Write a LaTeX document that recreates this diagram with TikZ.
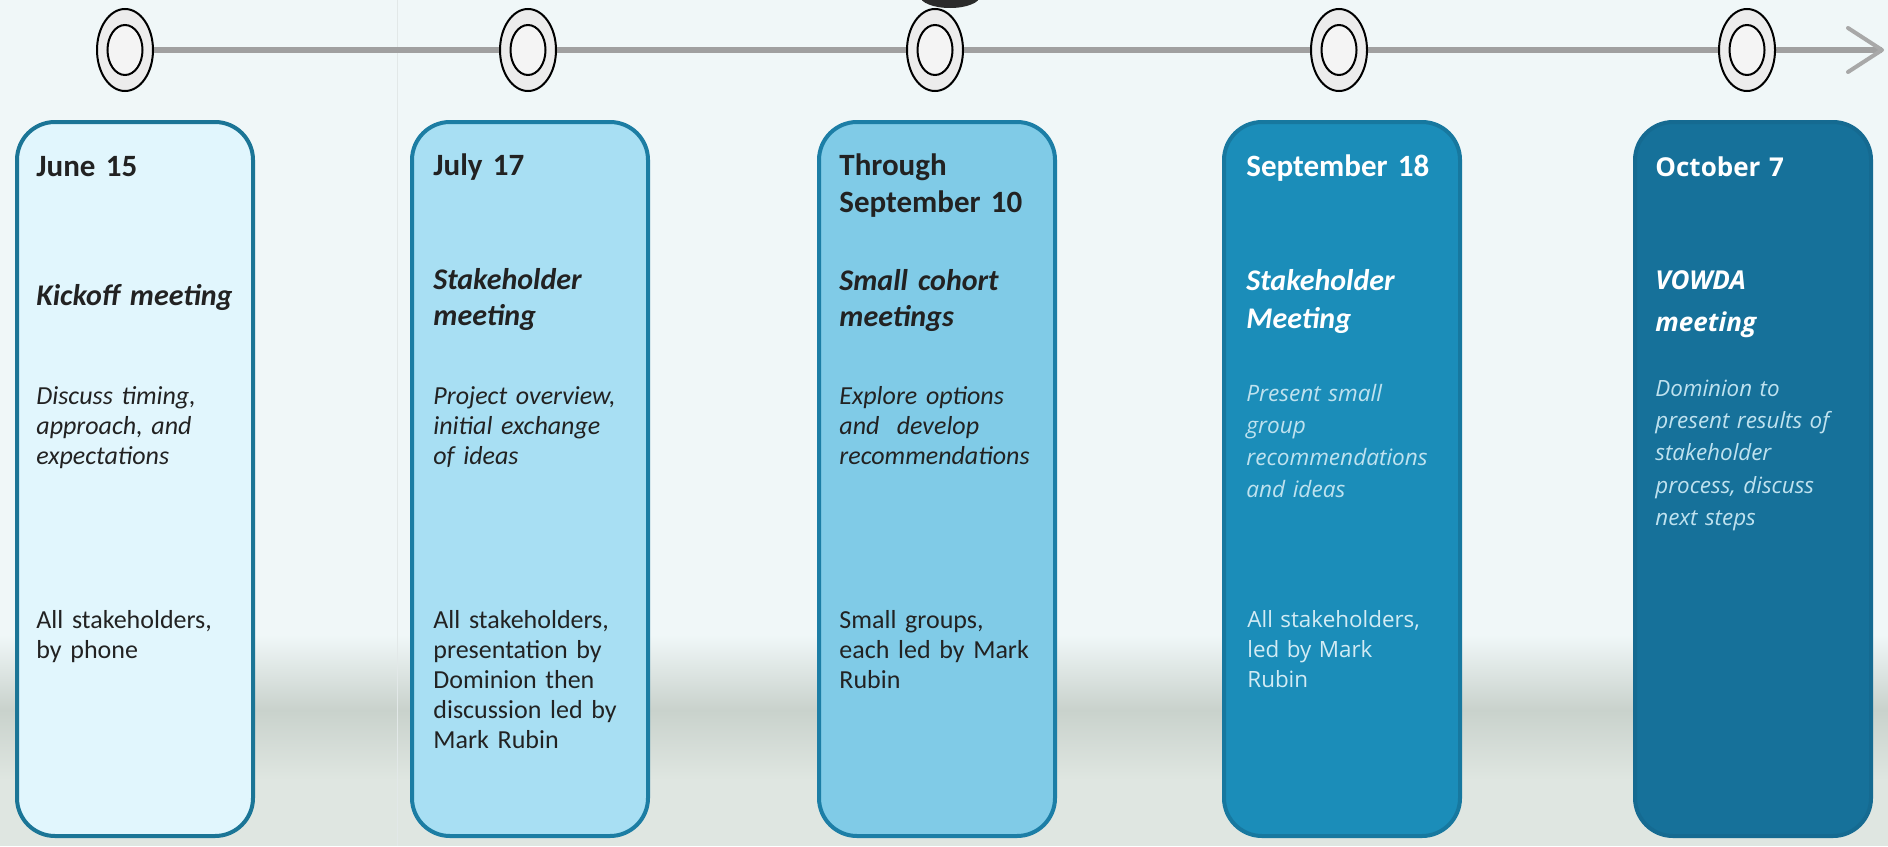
\documentclass[tikz,border=0pt]{standalone}
\usepackage{fontspec}
\setmainfont{Carlito}
\newfontfamily\osans{Open Sans}
\usetikzlibrary{shapes.geometric,arrows.meta}
\definecolor{bgc}{HTML}{F0F7F8}
\definecolor{band}{HTML}{C9D2CC}
\definecolor{bandlow}{HTML}{DFE6E1}
\definecolor{fold}{HTML}{E2E8E8}
\definecolor{linegray}{HTML}{A0A0A0}
\definecolor{tipgray}{HTML}{A8A8A8}
\definecolor{ringfill}{HTML}{ECECEC}
\definecolor{holefill}{HTML}{F4F4F4}
\definecolor{blob}{HTML}{2B2B2B}
\definecolor{bAfill}{HTML}{E1F6FD}
\definecolor{bAline}{HTML}{1B7596}
\definecolor{bBfill}{HTML}{A8DFF3}
\definecolor{bBline}{HTML}{1C7DA3}
\definecolor{bCfill}{HTML}{80CBE7}
\definecolor{bCline}{HTML}{1C7EA6}
\definecolor{bDfill}{HTML}{1B8DB9}
\definecolor{bDline}{HTML}{17789F}
\definecolor{bEfill}{HTML}{16719A}
\definecolor{bEline}{HTML}{156A91}
\definecolor{darktxt}{HTML}{222222}
\definecolor{paletxt}{HTML}{BFE2EF}
\definecolor{softtxt}{HTML}{D2EBF4}
\pgfdeclarelayer{back}
\pgfdeclarelayer{mid}
\pgfsetlayers{back,mid,main}
\begin{document}
\begin{tikzpicture}[x=0.5pt,y=-0.5pt,
  box/.style={draw, line width=2pt, rounded corners=19pt, minimum width=118pt,
    minimum height=357pt, inner sep=0pt},
  ring/.style={ellipse, draw=black, line width=1pt, fill=ringfill,
    minimum width=28pt, minimum height=41pt, inner sep=0pt},
  hole/.style={ellipse, draw=black, line width=1pt, fill=holefill,
    minimum width=17.5pt, minimum height=25pt, inner sep=0pt},
  txt/.style={anchor=base west, inner sep=0pt, text width=118pt, align=left},
  hd/.style={txt, font=\bfseries\fontsize{15.5}{18.5}\selectfont},
  tt/.style={txt, font=\bfseries\itshape\fontsize{15}{18}\selectfont},
  ds/.style={txt, font=\itshape\fontsize{13}{15}\selectfont},
  bt/.style={txt, font=\fontsize{13}{15}\selectfont},
  dark/.style={text=darktxt},
]
\useasboundingbox (0,0) rectangle (1888,846);
\clip (0,0) rectangle (1888,846);

% background
\begin{pgfonlayer}{back}
\fill[bgc] (0,0) rectangle (1888,846);
\shade[top color=bgc, bottom color=band] (0,635) rectangle (1888,710);
\shade[top color=band, bottom color=bandlow] (0,710) rectangle (1888,780);
\fill[bandlow] (0,780) rectangle (1888,846);
\draw[fold, line width=0.5pt] (397,0) -- (397,846);
\fill[blob] (950,-4) ellipse [x radius=30, y radius=12];
\end{pgfonlayer}

% timeline rings
\foreach \i/\cx in {1/125,2/528,3/935,4/1339,5/1747}{
  \node[ring] (c\i) at (\cx,50) {};
  \node[hole] (k\i) at (\cx,50) {};
}
\coordinate (tip) at (1882,50);
\begin{pgfonlayer}{mid}
\draw[linegray, line width=2.6pt] (c1.east) -- (tip);
\draw[tipgray, line width=2pt, line cap=round, line join=round]
  ([xshift=-17,yshift=-11]tip) -- (tip) -- ([xshift=-17,yshift=11]tip);
\end{pgfonlayer}

% boxes
\node[box, draw=bAline, fill=bAfill] (b1) at (135,479) {};
\node[box, draw=bBline, fill=bBfill] (b2) at (530,479) {};
\node[box, draw=bCline, fill=bCfill] (b3) at (937,479) {};
\node[box, draw=bDline, fill=bDfill] (b4) at (1342,479) {};
\node[box, draw=bEline, fill=bEfill] (b5) at (1753,479) {};

% box 1
\node[hd, dark] (h1) at (36,176) {June 15};
\node[tt, dark] (t1) at (36,305) {Kickoff meeting};
\node[ds, dark] (d1) at (36,404) {Discuss timing,\\approach, and\\expectations};
\node[bt, dark] (f1) at (36,628) {All stakeholders,\\by phone};

% box 2
\node[hd, dark] (h2) at (433,175) {July 17};
\node[tt, dark] (t2) at (433,289) {Stakeholder\\meeting};
\node[ds, dark] (d2) at (433,404) {Project overview,\\initial exchange\\of ideas};
\node[bt, dark] (f2) at (433,628) {All stakeholders,\\presentation by\\Dominion then\\discussion led by\\Mark Rubin};

% box 3
\node[hd, dark] (h3) at (839,175) {Through\\September 10};
\node[tt, dark] (t3) at (839,290) {Small cohort\\meetings};
\node[ds, dark] (d3) at (839,404) {Explore options\\and~~develop\\recommendations};
\node[bt, dark] (f3) at (839,628) {Small groups,\\each led by Mark\\Rubin};

% box 4
\node[hd, text=white] (h4) at (1246,176) {September 18};
\node[txt, text=white, font=\bfseries\itshape\fontsize{15}{19}\selectfont] (t4) at (1246,290) {Stakeholder\\Meeting};
\node[txt, text=paletxt, font=\osans\itshape\fontsize{11.3}{16}\selectfont] (d4) at (1246,401) {Present small\\group\\recommendations\\and ideas};
\node[txt, text=softtxt, font=\osans\fontsize{11.2}{15}\selectfont] (f4) at (1247,627) {All stakeholders,\\led by Mark\\Rubin};

% box 5
\node[txt, text=white, font=\osans\bfseries\fontsize{13}{16}\selectfont] (h5) at (1655,176) {October 7};
\node[txt, text=white, font=\osans\bfseries\itshape\fontsize{13}{21}\selectfont] (t5) at (1655,289) {VOWDA\\meeting};
\node[txt, text=paletxt, font=\osans\itshape\fontsize{11.2}{16.2}\selectfont] (d5) at (1655,396) {Dominion to\\present results of\\stakeholder\\process, discuss\\next steps};
\end{tikzpicture}
\end{document}
